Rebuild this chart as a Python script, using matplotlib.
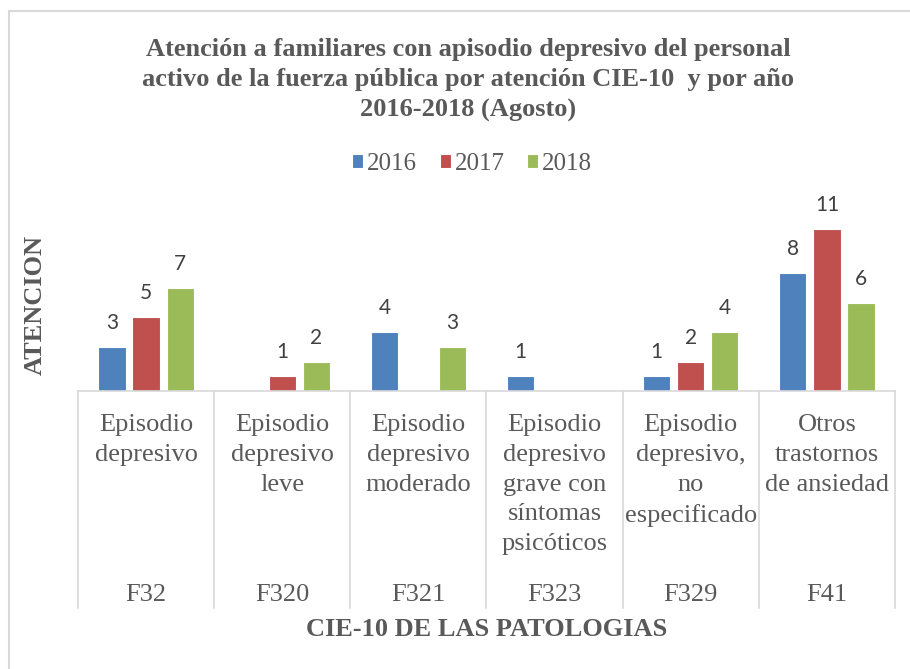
import numpy as np
import matplotlib
matplotlib.use("Agg")
import matplotlib.pyplot as plt
from matplotlib.patches import Rectangle

# data
codes = ["F32", "F320", "F321", "F323", "F329", "F41"]
names = ["Episodio\ndepresivo", "Episodio\ndepresivo\nleve", "Episodio\ndepresivo\nmoderado",
         "Episodio\ndepresivo\ngrave con\nsíntomas\npsicóticos", "Episodio\ndepresivo,\nno\nespecificado",
         "Otros\ntrastornos\nde ansiedad"]
years = ["2016", "2017", "2018"]
v2016 = [3, 0, 4, 1, 1, 8]
v2017 = [5, 1, 0, 0, 2, 11]
v2018 = [7, 2, 3, 0, 4, 6]
colors = ["#4F81BD", "#C0504D", "#9BBB59"]

W, H = 910, 669
fig = plt.figure(figsize=(W / 100, H / 100), dpi=100)
serif = "Liberation Serif"
grey = "#595959"
fs = 19

# plot area in pixels
x0, x1 = 78, 895
ytop, ybot = 214, 391
ax = fig.add_axes([x0 / W, 1 - ybot / H, (x1 - x0) / W, (ybot - ytop) / H])

x = np.arange(len(codes))
for k, (vals, c) in enumerate(zip([v2016, v2017, v2018], colors)):
    pos = x + (k - 1) * 0.25
    ax.bar(pos, vals, width=0.2, color=c, edgecolor="white", linewidth=0.8, label=years[k])
    for p, v in zip(pos, vals):
        if v:
            ax.annotate(str(v), (p, v), xytext=(0, 10), textcoords="offset points",
                        ha="center", va="bottom", fontsize=15, color="#404040", family="Lato")

ax.set_xlim(-0.5, len(codes) - 0.5)
ax.set_ylim(0, 12)
ax.set_yticks([])
ax.set_xticks([])
for s in ["left", "right", "top"]:
    ax.spines[s].set_visible(False)
ax.spines["bottom"].set_color("#D9D9D9")
ax.spines["bottom"].set_linewidth(1.2)

# hierarchical category axis
def ypx(py):
    return -(py - ybot) / (ybot - ytop)

for i in range(len(codes) + 1):
    ax.plot([i - 0.5, i - 0.5], [0, ypx(608)], transform=ax.get_xaxis_transform(),
            color="#D9D9D9", lw=1.2, clip_on=False)
for i, (n, c) in enumerate(zip(names, codes)):
    ax.text(i, ypx(414), n, transform=ax.get_xaxis_transform(),
            ha="center", va="top", fontsize=fs, family=serif, color=grey, linespacing=1.46)
    ax.text(i, ypx(601), c, transform=ax.get_xaxis_transform(),
            ha="center", va="baseline", fontsize=fs, family=serif, color=grey)

fig.text((x0 + x1) / 2 / W, 1 - 630 / H, "CIE-10 DE LAS PATOLOGIAS", ha="center", va="center",
         fontsize=fs, family=serif, fontweight="bold", color=grey)
fig.text(35 / W, 1 - 305 / H, "ATENCION", rotation=90, ha="center", va="center",
         fontsize=fs, family=serif, fontweight="bold", color=grey)

fig.text(468 / W, 1 - 80 / H,
         "Atención a familiares con apisodio depresivo del personal\n"
         "activo de la fuerza pública por atención CIE-10  y por año\n"
         "2016-2018 (Agosto)",
         ha="center", va="center", fontsize=fs, family=serif, fontweight="bold",
         color=grey, linespacing=1.4)

fig.legend(loc="center", bbox_to_anchor=(472 / W, 1 - 164 / H), ncol=3, frameon=False,
           prop={"family": serif, "size": 18}, handlelength=0.45, handleheight=0.45,
           handletextpad=0.15, columnspacing=0.9, labelcolor=grey)

# chart border
fig.add_artist(Rectangle((9 / W, -0.1), 1.2, 1 - 11 / H + 0.1, transform=fig.transFigure,
                         fill=False, edgecolor="#D9D9D9", lw=1.5))

fig.savefig("out.png", dpi=100, facecolor="white")
